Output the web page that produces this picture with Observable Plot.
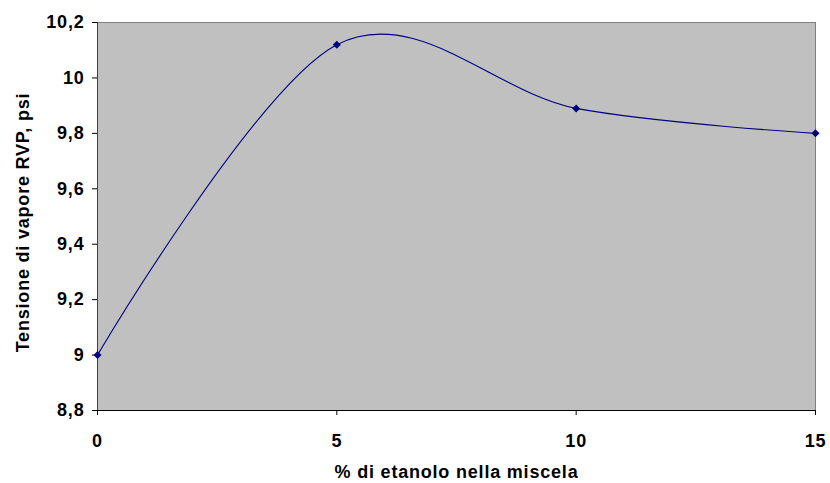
<!DOCTYPE html>
<html>
<head>
<meta charset="utf-8">
<script src="https://cdn.jsdelivr.net/npm/d3@7"></script>
<script src="https://cdn.jsdelivr.net/npm/@observablehq/plot@0.6"></script>
<style>
  html, body { margin: 0; padding: 0; background: #ffffff; }
  svg { display: block; }
  #chart svg text { font-family: "Liberation Sans", Arial, sans-serif !important; font-weight: bold !important; font-size: 18px !important; letter-spacing: 0.8px; fill: #000; }
</style>
</head>
<body>
<div id="chart"></div>
<script>
const ethanolPct = [0, 5, 10, 15];
const rvpPsi = [9, 10.12, 9.89, 9.8];
const yTicks = [8.8, 9, 9.2, 9.4, 9.6, 9.8, 10, 10.2];
const xTicks = [0, 5, 10, 15];
const xTitle = "% di etanolo nella miscela";
const yTitle = "Tensione di vapore RVP, psi";

const data = ethanolPct.map((x, i) => ({x, y: rvpPsi[i]}));
const fmt = d => String(+d.toFixed(1)).replace(".", ",");
const font = "Liberation Sans, Arial, sans-serif";

const chart = Plot.plot({
  width: 830,
  height: 483,
  marginLeft: 97,
  marginRight: 15,
  marginTop: 22,
  marginBottom: 73,
  style: {fontFamily: font, fontWeight: "bold", color: "#000", background: "#fff"},
  x: {domain: [0, 15]},
  y: {domain: [8.8, 10.2]},
  marks: [
    Plot.frame({fill: "#C0C0C0", stroke: "#808080"}),
    Plot.ruleX([0], {stroke: "#404040"}),
    Plot.ruleY([8.8], {stroke: "#000"}),
    Plot.axisX({ticks: xTicks, tickFormat: fmt, tickSize: 5, tickPadding: 19, label: null, fontSize: 18}),
    Plot.axisY({ticks: yTicks, tickFormat: fmt, tickSize: 5, tickPadding: 8, label: null, fontSize: 18}),
    Plot.line(data, {x: "x", y: "y", curve: "cardinal", tension: 0, stroke: "#000080", strokeWidth: 1.1}),
    Plot.dot(data, {x: "x", y: "y", symbol: "diamond2", r: 3.6, fill: "#000080", stroke: "none"}),
    Plot.text([xTitle], {frameAnchor: "bottom", dy: 62, text: d => d, lineAnchor: "middle", fontSize: 18}),
    Plot.text([yTitle], {frameAnchor: "left", dx: -74, dy: 6, text: d => d, rotate: -90, textAnchor: "middle", lineAnchor: "middle", fontSize: 18})
  ]
});
document.getElementById("chart").appendChild(chart);
</script>
</body>
</html>
